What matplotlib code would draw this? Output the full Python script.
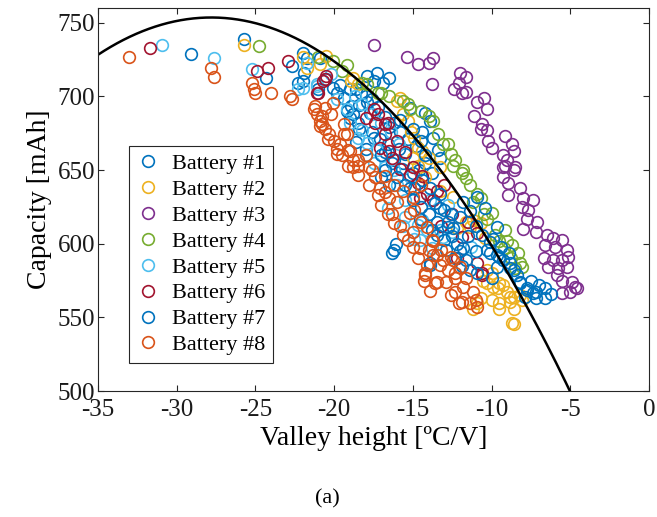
import numpy as np
import matplotlib
matplotlib.use("Agg")
import matplotlib.pyplot as plt

plt.rcParams['font.family'] = ['Liberation Serif', 'DejaVu Serif']
plt.rcParams['axes.unicode_minus'] = False

# ---- data (valley height [ºC/V], capacity [mAh]) ----
bat1_x = [-29.1, -25.7, -24.3, -22.0, -22.7, -22.3, -21.9, -21.0, -20.9, -22.0,
          -17.3, -17.5, -20.1, -19.8, -19.4, -18.9, -18.8, -18.5, -18.4, -17.9,
          -17.7, -17.5, -17.1, -16.5, -16.6, -15.9, -15.5, -15.2, -14.2, -13.9,
          -13.7, -13.4, -13.3, -16.3, -15.7, -16.5, -17.9, -21.7, -16.9, -14.4,
          -18.0, -18.6, -19.0, -16.1, -16.2, -20.5, -19.6, -19.0, -18.3, -17.6,
          -17.2, -16.8, -16.2, -15.8, -15.3, -14.8, -16.8, -16.2, -15.6, -15.0,
          -14.6, -14.2, -13.8, -18.6, -18.0, -17.6, -19.2, -18.4]
bat1_y = [729, 739, 712.7, 729.7, 720.9, 709.4, 716, 705, 726, 710.7,
          716, 710.7, 706, 702.6, 699, 693.8, 688.3, 682, 678, 696,
          689, 672, 671.4, 679, 668, 664.6, 661, 692.4, 689, 683.6,
          672, 663.3, 658, 654.5, 651, 712.7, 714, 726.3, 709, 675.5,
          700, 705, 685, 600, 596, 712, 708, 705, 702, 698,
          693, 686, 682, 676, 671, 666, 662, 657, 655, 648,
          650, 655, 648, 669, 664, 676, 690, 694]

bat2_x = [-25.7, -22.0, -21.7, -20.9, -20.5, -18.9, -18.5, -18.8, -15.8, -16.0,
          -15.6, -15.3, -15.1, -14.9, -14.7, -14.4, -14.0, -15.0, -14.7, -13.3,
          -14.2, -13.3, -12.45, -11.6, -11.4, -12.2, -11.2, -10.7, -10.4, -10.3,
          -10.0, -10.55, -9.9, -9.3, -9.0, -8.6, -9.5, -8.85, -8.2, -10.9,
          -11.2, -10.3, -9.6, -10.7, -9.5, -8.6, -8.6, -8.85, -8.1, -10.0,
          -9.5, -8.7]
bat2_y = [735, 727, 719.5, 722, 727.6, 710.7, 708.7, 712.7, 699, 697,
          688, 683, 675.5, 672, 665.3, 663, 658.5, 658.5, 653, 651.8,
          645, 636, 631.4, 614.5, 611, 610.4, 616, 614, 604, 582,
          580, 575, 570.5, 571.8, 567, 563.7, 559.6, 560.3, 565, 559.6,
          556, 573, 569.8, 563, 556, 556, 545.4, 563.7, 561.7, 561.7,
          573, 546]

bat3_x = [-17.5, -15.4, -14.7, -13.7, -14.0, -13.8, -12.0, -11.6, -12.1, -12.4,
          -11.9, -11.6, -10.9, -10.5, -10.3, -11.1, -10.6, -10.7, -10.3, -10.2,
          -10.0, -9.15, -8.7, -8.6, -9.3, -9.0, -9.3, -8.5, -9.15, -8.6,
          -9.3, -8.95, -8.2, -8.95, -8.0, -7.4, -8.1, -7.7, -7.75, -7.1,
          -8.0, -7.2, -6.5, -6.1, -5.5, -6.6, -6.0, -5.2, -6.7, -6.1,
          -5.5, -5.15, -6.4, -5.8, -5.2, -5.85, -5.5, -4.9, -4.7, -5.5,
          -5.0, -4.6]
bat3_y = [735, 727, 722, 726, 722.5, 708.7, 716, 713.4, 709, 705,
          702, 703, 696.5, 699, 691.7, 687, 681.6, 678, 677, 670,
          665, 673, 668, 663, 660, 656.5, 651.8, 651.8, 653, 649.7,
          645, 641, 637.5, 632.8, 630.8, 629.4, 624.7, 622.6, 617, 614.5,
          610, 607.7, 605.7, 603.7, 602.3, 599, 597.6, 595.5, 590, 588.8,
          588.8, 590.8, 584, 583.3, 584, 578.6, 575, 573.8, 570.5, 566.4,
          567, 569.8]

bat4_x = [-24.8, -21.0, -20.1, -19.2, -19.5, -18.2, -17.9, -17.2, -17.0, -16.5,
          -15.6, -15.3, -15.2, -14.5, -14.0, -13.7, -13.4, -13.1, -12.8, -12.6,
          -12.3, -12.45, -11.9, -11.8, -11.6, -11.4, -11.2, -10.9, -10.7, -10.5,
          -10.0, -10.3, -9.8, -9.15, -9.0, -9.5, -9.2, -8.7, -8.8, -8.3,
          -8.2, -8.1, -8.5]
bat4_y = [734, 727, 724, 721, 717.5, 709, 708.7, 702.6, 702, 700,
          697, 695, 691.7, 690, 687, 683.6, 674.8, 668, 668, 661,
          656.5, 653, 648, 649.7, 644.3, 639.6, 628, 634, 630.8, 620,
          621, 617, 606, 609, 602, 602, 597, 599, 590, 594,
          587, 584, 583.3]

bat5_x = [-30.9, -27.6, -25.2, -21.7, -22.3, -21.1, -22.0, -21.1, -20.2, -19.8,
          -19.2, -19.0, -18.2, -18.5, -17.9, -17.3, -17.0, -18.0, -17.5, -16.8,
          -16.0, -16.6, -15.5, -15.5, -14.7, -14.1, -14.55, -13.3, -12.5, -14.4,
          -13.1, -13.8, -18.7, -18.2, -17.6, -16.4, -15.9, -16.2, -15.2, -13.9,
          -12.8, -11.3, -14.9, -15.6]
bat5_y = [735, 726, 718.8, 723, 705, 708.7, 706, 707.3, 715, 698,
          691.7, 682, 677, 672, 668.7, 663.3, 682, 660, 655, 651.8,
          640, 624, 630, 618, 612.5, 609, 602.3, 609, 607.7, 616,
          604.3, 597, 700, 695, 688, 676, 668, 650, 645, 630,
          626, 598, 603, 612]

bat6_x = [-31.7, -24.9, -24.2, -22.9, -21.0, -20.6, -20.5, -21.1, -20.7, -17.5,
          -17.2, -16.8, -17.4, -16.6, -16.8, -17.1, -16.5, -16.3, -15.0, -15.8,
          -15.2, -14.55, -13.7, -14.7, -13.5, -14.1, -10.9, -11.9, -10.9, -10.6,
          -10.6, -18.0, -16.0, -15.5, -14.4, -13.0, -12.5, -11.5, -12.2, -13.2]
bat6_y = [733, 717.5, 719.5, 724, 702.6, 712, 714, 702, 710.7, 691.7,
          688, 681.6, 682, 682, 674.8, 665.3, 663, 658.5, 651.8, 651,
          646.3, 630.8, 629.4, 641, 636, 634, 607, 604.3, 586.7, 578.6,
          580, 685, 670, 662, 646, 640, 620, 615, 590, 612]

bat7_x = [-16.8, -15.2, -14.9, -13.6, -13.3, -12.8, -13.8, -14.55, -13.0, -12.2,
          -13.9, -14.4, -13.9, -13.3, -13.0, -12.8, -12.45, -11.8, -11.6, -10.1,
          -10.3, -9.65, -9.3, -8.85, -8.4, -8.2, -7.75, -7.2, -6.6, -6.6,
          -7.2, -7.9, -9.65, -10.4, -10.9, -16.3, -13.9, -10.1, -9.5, -8.85,
          -8.6, -7.75, -7.4, -8.2, -10.0, -9.65, -17.0, -16.0, -15.5, -15.0,
          -14.5, -14.0, -13.5, -12.5, -12.0, -11.5, -11.0, -15.8, -15.0, -14.5,
          -14.2, -17.0, -16.5, -13.5, -12.9, -12.3, -11.9, -11.4, -10.9, -11.0,
          -10.6, -9.9, -9.4, -8.9, -7.5, -7.0, -6.2, -12.6, -12.0, -11.4,
          -11.8]
bat7_y = [649.7, 637.5, 638, 627.4, 624, 614.5, 609, 617, 602.3, 600,
          585.4, 643, 638, 634, 622.6, 611, 610.4, 597, 588.8, 601,
          595.5, 592, 588.8, 583.3, 578.6, 573, 569.8, 567, 569.8, 563,
          563, 563.7, 611, 624, 631.4, 594, 586.7, 593.5, 590.8, 586.7,
          582, 568.4, 566.4, 573.8, 577, 584, 660, 645, 640, 630,
          625, 620, 615, 605, 595, 605, 595, 684, 678, 670,
          660, 645, 640, 606, 596, 590, 585, 582, 580, 612,
          606, 603, 598, 594, 575, 572, 566, 620, 618, 622,
          628]

bat8_x = [-33.0, -27.8, -27.6, -25.2, -25.1, -25.0, -24.0, -22.8, -22.7, -21.3,
          -21.1, -20.9, -21.2, -20.8, -20.8, -20.6, -20.3, -20.4, -20.0, -19.8,
          -19.5, -19.2, -19.0, -18.5, -18.8, -18.5, -20.1, -20.9, -19.4, -19.6,
          -19.1, -19.8, -18.8, -18.5, -19.1, -17.4, -17.6, -17.1, -17.2, -16.5,
          -16.0, -15.2, -14.9, -15.3, -14.55, -13.8, -14.0, -13.7, -14.2, -13.1,
          -12.45, -12.8, -12.3, -14.1, -14.2, -13.6, -13.3, -12.3, -12.3, -11.8,
          -11.9, -11.2, -11.0, -10.9, -13.5, -12.6, -14.1, -13.7, -13.5, -12.1,
          -15.8, -15.0, -14.5, -16.3, -17.8, -16.8, -17.0, -16.6, -16.2, -15.6,
          -15.0, -14.7, -13.2, -12.9, -12.6, -12.0, -11.6, -11.4, -13.9, -16.8,
          -16.2, -15.6, -15.0, -14.5, -18.0, -17.8, -19.4, -20.2, -20.6, -14.3]
bat8_y = [727, 719, 713, 709.4, 705, 702.5, 702.5, 700.5, 698, 691.7,
          688.3, 680, 693.8, 687, 681.6, 678, 674.8, 671.4, 670, 664.6,
          659.9, 674.8, 663, 656.5, 651.8, 646.3, 695.8, 683.6, 674.8, 668,
          663.3, 661, 656.5, 653, 653, 645, 649.7, 638, 632.8, 630.8,
          628, 620.6, 622.6, 602.3, 597, 602.3, 595.5, 592, 580, 588.8,
          588.8, 582, 580, 585.4, 578.6, 573, 585.4, 576.6, 567, 570.5,
          560.3, 567, 561.7, 557, 592, 590.8, 611, 602, 574, 559.6,
          612, 608, 615, 620, 640, 635, 626, 620, 614, 606,
          598, 590, 596, 574, 565, 584, 577, 560, 568, 646,
          640, 636, 632, 640, 660, 652, 681, 688, 692, 575]

labels = ['Battery #1', 'Battery #2', 'Battery #3', 'Battery #4',
          'Battery #5', 'Battery #6', 'Battery #7', 'Battery #8']
colors = ['#0072BD', '#EDB120', '#7E2F8E', '#77AC30',
          '#4DBEEE', '#A2142F', '#0072BD', '#D95319']

# quadratic fit shown as the black curve
fit_coef = [-0.489, -27.19, 375.6]

series = [(bat1_x, bat1_y), (bat2_x, bat2_y), (bat3_x, bat3_y), (bat4_x, bat4_y),
          (bat5_x, bat5_y), (bat6_x, bat6_y), (bat7_x, bat7_y), (bat8_x, bat8_y)]

fig = plt.figure(figsize=(6.57, 5.17), dpi=100)
ax = fig.add_axes([0.149, 0.2437, 0.839, 0.7408])

for (xs, ys), lab, col in zip(series, labels, colors):
    ax.plot(xs, ys, linestyle='none', marker='o', markersize=8.4,
            markerfacecolor='none', markeredgecolor=col, markeredgewidth=1.2,
            label=lab)

xf = np.linspace(-35, -4.8, 300)
ax.plot(xf, np.polyval(fit_coef, xf), color='black', linewidth=1.8)

ax.set_xlim(-35, 0)
ax.set_ylim(500, 760)
ax.set_xticks(np.arange(-35, 1, 5))
ax.set_yticks(np.arange(500, 751, 50))
ax.tick_params(direction='in', top=True, right=True, length=4.5, width=0.8,
               labelsize=18, colors='#262626', labelcolor='#1a1a1a')
ax.tick_params(axis='x', pad=6)
ax.tick_params(axis='y', pad=2)
for sp in ax.spines.values():
    sp.set_color('#262626')
    sp.set_linewidth(0.8)

ax.set_xlabel('Valley height [ºC/V]', fontsize=20, labelpad=3)
ax.set_ylabel('Capacity [mAh]', fontsize=20, labelpad=4)

leg = ax.legend(loc='lower left', bbox_to_anchor=(0.056, 0.073), borderaxespad=0,
                fontsize=16, handlelength=1.0, handletextpad=0.6, labelspacing=0.24,
                borderpad=0.35, fancybox=False, framealpha=1, edgecolor='#262626')
leg.get_frame().set_linewidth(0.8)

fig.text(0.499, 0.035, '(a)', fontsize=16, ha='center', va='center')

fig.savefig('out.png', dpi=100)
